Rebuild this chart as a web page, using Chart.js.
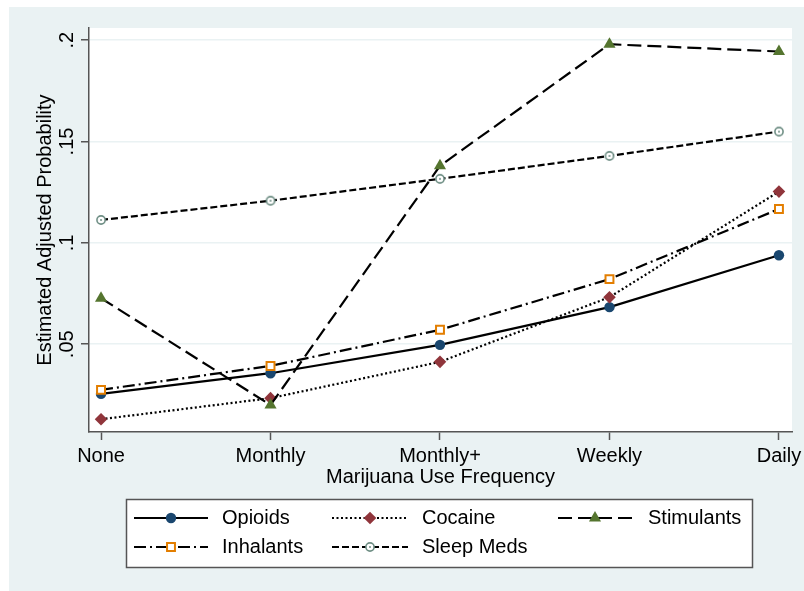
<!DOCTYPE html>
<html>
<head>
<meta charset="utf-8">
<script src="https://cdn.jsdelivr.net/npm/chart.js@4.4.1/dist/chart.umd.min.js"></script>
<style>
  html, body { margin: 0; padding: 0; background: #fff; }
  canvas { display: block; }
</style>
</head>
<body>
<canvas id="c" width="804" height="591"></canvas>
<script>
// Categories on the x axis
const categories = ['None', 'Monthly', 'Monthly+', 'Weekly', 'Daily'];

// Estimated adjusted probabilities per substance
const opioids    = [0.0255, 0.0357, 0.0497, 0.0683, 0.0939];
const cocaine    = [0.0130, 0.0234, 0.0413, 0.0732, 0.1253];
const stimulants = [0.0727, 0.0200, 0.1380, 0.1980, 0.1944];
const inhalants  = [0.0275, 0.0393, 0.0571, 0.0821, 0.1167];
const sleepMeds  = [0.1113, 0.1208, 0.1316, 0.1429, 0.1549];

// Y axis ticks and their labels
const yTickValues = [0.05, 0.1, 0.15, 0.2];
const yTickLabels = ['.05', '.1', '.15', '.2'];

const FONT = '"Liberation Sans", Arial, Helvetica, sans-serif';
const BG = '#eaf2f3';
const AXIS = '#555';

// hollow circle with a centre dot
function ringDot(color) {
  const c = document.createElement('canvas');
  c.width = c.height = 12;
  const g = c.getContext('2d');
  g.beginPath(); g.arc(6, 6, 4.1, 0, Math.PI * 2);
  g.fillStyle = '#fff'; g.fill();
  g.lineWidth = 1.6; g.strokeStyle = color; g.stroke();
  g.beginPath(); g.arc(6, 6, 1, 0, Math.PI * 2);
  g.fillStyle = color; g.fill();
  return c;
}

const toPoints = arr => arr.map((v, i) => ({ x: i, y: v }));

function series(label, values, dash, style, radius, fillCol, strokeCol, bw, order) {
  return {
    label, data: toPoints(values),
    borderColor: '#000', borderWidth: 2.2, borderDash: dash,
    pointStyle: style, pointRadius: radius, pointHoverRadius: radius,
    pointBackgroundColor: fillCol, pointBorderColor: strokeCol,
    pointBorderWidth: bw, pointHoverBorderWidth: bw,
    tension: 0, fill: false, order
  };
}

const datasets = [
  series('Opioids', opioids, [], 'circle', 5.2, '#1a476f', '#1a476f', 0, 5),
  series('Cocaine', cocaine, [2, 2.5], 'rectRot', 6.3, '#90353b', '#90353b', 0, 4),
  series('Stimulants', stimulants, [14, 6], 'triangle', 7, '#55752f', '#55752f', 0, 3),
  series('Inhalants', inhalants, [12, 4, 2, 4], 'rect', 5.6, '#fff', '#e37e00', 2, 2),
  series('Sleep Meds', sleepMeds, [7, 3], ringDot('#6e8e84'), 6, '#fff', '#6e8e84', 0, 1)
];

// panel backgrounds
const backdrop = {
  id: 'backdrop',
  beforeDraw(chart) {
    const ctx = chart.ctx, a = chart.chartArea;
    ctx.save();
    ctx.fillStyle = '#fff';
    ctx.fillRect(0, 0, chart.width, chart.height);
    ctx.fillStyle = BG;
    ctx.fillRect(9, 7, chart.width - 9, chart.height - 7);
    ctx.fillStyle = '#fff';
    ctx.fillRect(a.left, a.top, a.right - a.left, a.bottom - a.top);
    ctx.restore();
  }
};

// boxed key below the plot, three columns
const keyBox = {
  id: 'keyBox',
  afterDraw(chart) {
    const ctx = chart.ctx;
    ctx.save();
    ctx.fillStyle = '#fff';
    ctx.fillRect(126.5, 499.5, 626, 68);
    ctx.strokeStyle = AXIS; ctx.lineWidth = 1.5;
    ctx.strokeRect(126.5, 499.5, 626, 68);
    const cols = [
      { x0: 134, x1: 208, tx: 222 },
      { x0: 332, x1: 408, tx: 422 },
      { x0: 558, x1: 632, tx: 648 }
    ];
    const rows = [518, 547];
    chart.data.datasets.forEach((ds, i) => {
      const col = cols[i % 3], y = rows[Math.floor(i / 3)];
      ctx.beginPath();
      ctx.setLineDash(ds.borderDash);
      ctx.lineWidth = ds.borderWidth;
      ctx.strokeStyle = ds.borderColor;
      ctx.moveTo(col.x0, y); ctx.lineTo(col.x1, y);
      ctx.stroke();
      ctx.setLineDash([]);
      ctx.fillStyle = ds.pointBackgroundColor;
      ctx.strokeStyle = ds.pointBorderColor;
      ctx.lineWidth = ds.pointBorderWidth;
      Chart.helpers.drawPoint(ctx, {
        pointStyle: ds.pointStyle, radius: ds.pointRadius,
        borderWidth: ds.pointBorderWidth, rotation: 0
      }, (col.x0 + col.x1) / 2, y);
      ctx.fillStyle = '#000';
      ctx.font = '20px ' + FONT;
      ctx.textBaseline = 'middle';
      ctx.textAlign = 'left';
      ctx.fillText(ds.label, col.tx, y);
    });
    ctx.restore();
  }
};

new Chart(document.getElementById('c'), {
  type: 'line',
  data: { datasets },
  plugins: [backdrop, keyBox],
  options: {
    responsive: false,
    animation: false,
    events: [],
    layout: { padding: { left: 0, top: 28, right: 12, bottom: 102 } },
    plugins: { legend: { display: false }, tooltip: { enabled: false } },
    scales: {
      x: {
        type: 'linear',
        min: -0.071, max: 4.077,
        afterBuildTicks: s => { s.ticks = categories.map((c, i) => ({ value: i })); },
        afterFit: s => { s.height = 57; s.paddingLeft = 0; s.paddingRight = 0; },
        ticks: {
          autoSkip: false, maxRotation: 0, padding: 4, color: '#000',
          font: { family: FONT, size: 20 },
          callback: v => categories[v]
        },
        grid: { drawOnChartArea: false, drawTicks: true, tickLength: 8, tickColor: AXIS, tickWidth: 1.5 },
        border: { display: true, color: AXIS, width: 1.5 },
        title: {
          display: true, text: 'Marijuana Use Frequency', color: '#000',
          font: { family: FONT, size: 20 }, padding: { top: 0, bottom: 0 }
        }
      },
      y: {
        type: 'linear',
        min: 0.0067, max: 0.206,
        afterBuildTicks: s => { s.ticks = yTickValues.map(v => ({ value: v })); },
        afterFit: s => { s.width = 89; s.paddingTop = 0; s.paddingBottom = 0; },
        ticks: {
          minRotation: 90, maxRotation: 90, crossAlign: 'center', padding: 0,
          color: '#000', font: { family: FONT, size: 20 },
          callback: v => { const k = yTickValues.indexOf(v); return k >= 0 ? yTickLabels[k] : ''; }
        },
        grid: { color: BG, lineWidth: 1.5, tickLength: 8, tickColor: AXIS, tickWidth: 1.5 },
        border: { display: true, color: AXIS, width: 1.5 },
        title: {
          display: true, text: 'Estimated Adjusted Probability', color: '#000',
          font: { family: FONT, size: 20 }, padding: { top: 33, bottom: 0 }
        }
      }
    }
  }
});
</script>
</body>
</html>
